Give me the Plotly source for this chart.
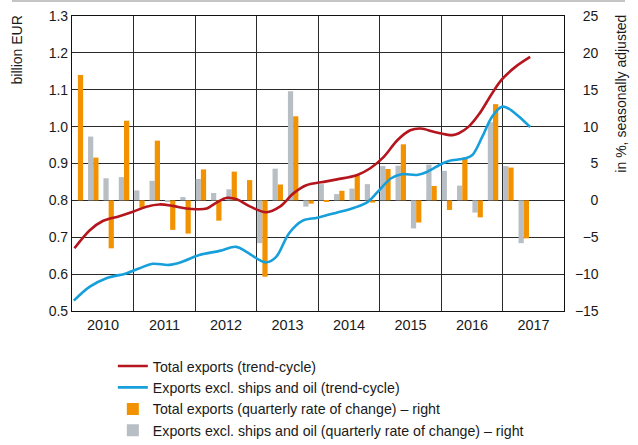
import plotly.graph_objects as go

# ---------------- data ----------------
years = [2010, 2011, 2012, 2013, 2014, 2015, 2016, 2017]
year_labels = ["2010", "2011", "2012", "2013", "2014", "2015", "2016", "2017"]

quarters = [f"{y}Q{q}" for y in years for q in range(1, 5)][:30]

total_qoq = [17.0, 5.8, -6.5, 10.8,
             -1.0, 8.1, -4.0, -4.5,
             4.2, -2.75, 3.9, 2.75,
             -10.35, 2.15, 11.4, -0.45,
             -0.2, 1.3, 3.4, -0.3,
             4.25, 7.6, -3.0, 1.95,
             -1.3, 5.8, -2.3, 13.05,
             4.45, -5.15]
excl_qoq = [None, 8.65, 3.0, 3.15,
            1.35, 2.65, -0.2, 0.45,
            2.9, 1.0, 1.5, 0.0,
            -5.8, 4.3, 14.8, -0.85,
            2.2, 0.85, 1.6, 2.2,
            4.65, 4.7, -3.8, 4.85,
            4.0, 2.0, -1.65, 10.6,
            4.65, -5.8]

total_trend_t = [2010.04, 2010.29, 2010.50, 2010.77, 2010.99, 2011.21, 2011.42, 2011.64,
                 2011.86, 2012.04, 2012.19, 2012.35, 2012.52, 2012.68, 2012.90, 2013.16,
                 2013.38, 2013.60, 2013.81, 2014.05, 2014.31, 2014.64, 2014.85, 2015.07,
                 2015.29, 2015.50, 2015.67, 2015.88, 2016.07, 2016.19, 2016.29, 2016.45,
                 2016.62, 2016.83, 2016.99, 2017.21, 2017.45]
total_trend = [0.670, 0.719, 0.744, 0.757, 0.769, 0.783, 0.789, 0.785,
               0.778, 0.776, 0.778, 0.794, 0.807, 0.803, 0.783, 0.768,
               0.783, 0.819, 0.841, 0.849, 0.857, 0.869, 0.887, 0.918,
               0.963, 0.990, 0.995, 0.986, 0.979, 0.977, 0.982, 1.000,
               1.034, 1.090, 1.128, 1.162, 1.189]

excl_trend_t = [2010.03, 2010.29, 2010.56, 2010.88, 2011.10, 2011.31, 2011.58, 2011.80,
                2012.07, 2012.40, 2012.67, 2012.83, 2013.05, 2013.16, 2013.32, 2013.53,
                2013.75, 2013.99, 2014.29, 2014.59, 2014.81, 2014.97, 2015.19, 2015.36,
                2015.61, 2015.77, 2016.02, 2016.13, 2016.40, 2016.51, 2016.67, 2016.83,
                2016.99, 2017.10, 2017.27, 2017.45]
excl_trend = [0.528, 0.566, 0.589, 0.602, 0.616, 0.628, 0.625, 0.634,
              0.652, 0.663, 0.674, 0.661, 0.638, 0.632, 0.647, 0.711,
              0.745, 0.753, 0.766, 0.780, 0.796, 0.823, 0.860, 0.871,
              0.869, 0.877, 0.900, 0.907, 0.914, 0.923, 0.972, 1.027,
              1.054, 1.049, 1.027, 0.999]

left_ticks = [0.5, 0.6, 0.7, 0.8, 0.9, 1.0, 1.1, 1.2, 1.3]
right_ticks = [-15, -10, -5, 0, 5, 10, 15, 20, 25]

# ---------------- styling ----------------
FONT = "Liberation Sans Narrow, Arial Narrow, Liberation Sans, Arial, sans-serif"
RED = "#B5161E"
BLUE = "#169FDB"
ORANGE = "#F39200"
GREY = "#B7BEC4"
GRID = "#2a2a2a"

# bar positions: second month of each quarter
bar_x = [int(q[:4]) + (3 * (int(q[-1]) - 1) + 1.15) / 12 for q in quarters]

FS = "\u2007"
def right_label(v):
    s = f"{abs(v)}"
    if v < 0:
        s = "\u2212" + s
    return FS * (3 - len(s)) + s

fig = go.Figure()
fig.add_trace(go.Bar(x=bar_x, y=excl_qoq, name="Exports excl. ships and oil (quarterly rate of change) \u2013 right",
                     marker=dict(color=GREY, line=dict(width=0)), yaxis="y", legendrank=4))
fig.add_trace(go.Bar(x=bar_x, y=total_qoq, name="Total exports (quarterly rate of change) \u2013 right",
                     marker=dict(color=ORANGE, line=dict(width=0)), yaxis="y", legendrank=3))
fig.add_trace(go.Scatter(x=total_trend_t, y=total_trend, name="Total exports (trend-cycle)", mode="lines",
                         line=dict(color=RED, width=2.6, shape="spline", smoothing=1.0), yaxis="y2", legendrank=1))
fig.add_trace(go.Scatter(x=excl_trend_t, y=excl_trend, name="Exports excl. ships and oil (trend-cycle)", mode="lines",
                         line=dict(color=BLUE, width=2.6, shape="spline", smoothing=1.0), yaxis="y2", legendrank=2))

fig.update_layout(
    width=638, height=445,
    margin=dict(l=72, r=74, t=16, b=134, autoexpand=False),
    paper_bgcolor="white", plot_bgcolor="white",
    font=dict(family=FONT, size=14, color="#1a1a1a"),
    barmode="group", bargap=0.32, bargroupgap=0,
    showlegend=True,
    legend=dict(x=0.083, y=-0.133, xanchor="left", yanchor="top",
                font=dict(size=14.2), tracegroupgap=0, bgcolor="rgba(0,0,0,0)",
                itemwidth=30),
    xaxis=dict(range=[2010, 2018], tickvals=years, ticktext=year_labels, ticklabelshift=31,
               showgrid=True, gridcolor=GRID, gridwidth=1, ticks="", zeroline=False,
               showline=True, linecolor="#111", linewidth=1.2, mirror=True,
               tickfont=dict(size=14.5)),
    yaxis=dict(side="right", range=[-15, 25], tickvals=right_ticks,
               ticktext=[right_label(v) for v in right_ticks],
               showgrid=True, gridcolor=GRID, gridwidth=1, zeroline=False, ticks="",
               showline=True, linecolor="#111", linewidth=1.2, tickfont=dict(size=14),
               ticklabelstandoff=7),
    yaxis2=dict(side="left", overlaying="y", range=[0.5, 1.3], tickvals=left_ticks,
                tickformat=".1f", showgrid=False, zeroline=False, ticks="",
                showline=True, linecolor="#111", linewidth=1.2, tickfont=dict(size=14)),
    shapes=[dict(type="line", xref="paper", yref="paper", x0=-0.122, x1=1.124, y0=1.0508, y1=1.0508,
                 line=dict(color="#8a8a8a", width=1))],
    annotations=[
        dict(text="billion EUR", xref="paper", yref="paper", x=-0.112, y=1.01, xanchor="center", yanchor="top",
             textangle=-90, showarrow=False, font=dict(size=14)),
        dict(text="in %, seasonally adjusted", xref="paper", yref="paper", x=1.115, y=1.01, xanchor="center",
             yanchor="top", textangle=-90, showarrow=False, font=dict(size=14)),
    ],
)

fig.write_html("out.html", config={"displayModeBar": False},
               post_script="document.body.style.margin='0px';")
